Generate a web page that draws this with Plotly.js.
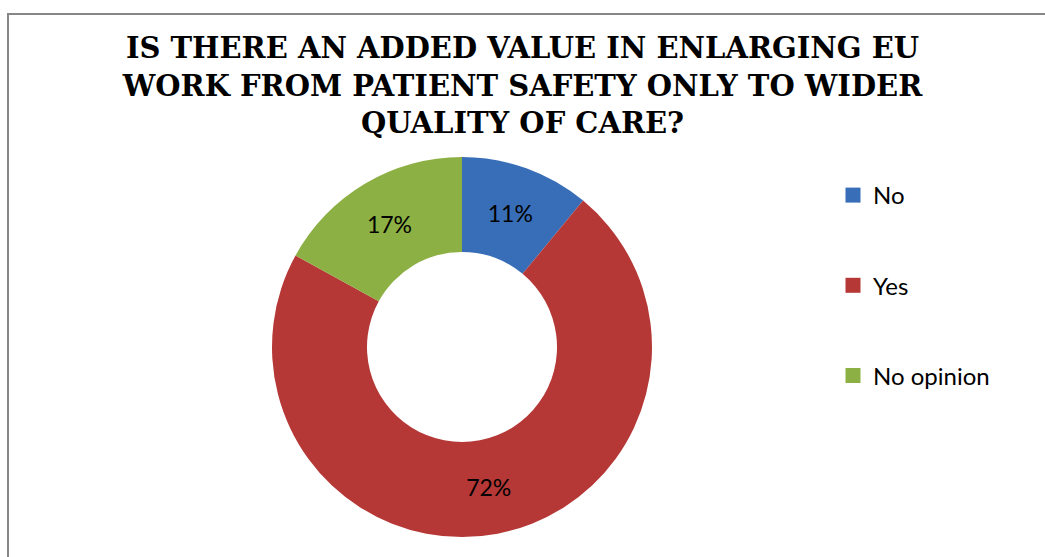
<!DOCTYPE html>
<html>
<head>
<meta charset="utf-8">
<script src="https://cdn.plot.ly/plotly-3.0.1.min.js"></script>
<style>
  html, body { margin: 0; padding: 0; background: #fff; }
  #chart { width: 1045px; height: 557px; }
</style>
</head>
<body>
<div id="chart"></div>
<script>
const categories = ['No', 'Yes', 'No opinion'];
const shares = [11, 72, 17];
const sliceColors = ['#386EB8', '#B53836', '#8CB043'];
const titleLines = [
  'IS THERE AN ADDED VALUE IN ENLARGING EU',
  'WORK FROM PATIENT SAFETY ONLY TO WIDER',
  'QUALITY OF CARE?'
];

const W = 1045, H = 557;
const cx = 462, cy = 347, R = 190;

const pie = {
  type: 'pie',
  labels: categories,
  values: shares,
  sort: false,
  direction: 'clockwise',
  rotation: 0,
  hole: 0.5,
  marker: { colors: sliceColors, line: { width: 0 } },
  texttemplate: '%{value}%',
  textinfo: 'text',
  textposition: 'inside',
  insidetextorientation: 'horizontal',
  textfont: { family: 'Lato, sans-serif', size: 23, color: '#000' },
  showlegend: false,
  hoverinfo: 'label+percent',
  domain: {
    x: [(cx - R) / W, (cx + R) / W],
    y: [(H - cy - R) / H, (H - cy + R) / H]
  }
};

const legendTraces = categories.map((c, i) => ({
  type: 'scatter',
  mode: 'markers',
  x: [null], y: [null],
  name: c,
  legendgroup: 'g' + i,
  marker: { symbol: 'square', size: 15, color: sliceColors[i] },
  showlegend: true,
  hoverinfo: 'skip'
}));

const layout = {
  width: W, height: H,
  margin: { l: 0, r: 0, t: 0, b: 0 },
  paper_bgcolor: '#fff',
  plot_bgcolor: 'rgba(0,0,0,0)',
  title: {
    text: titleLines.join('<br>'),
    x: 0.5, xanchor: 'center', xref: 'container',
    y: 1 - 58 / H, yanchor: 'top', yref: 'container',
    font: { family: '"DejaVu Serif", serif', size: 29, weight: 'bold', stretch: 'condensed', color: '#000' }
  },
  xaxis: { visible: false },
  yaxis: { visible: false },
  legend: {
    x: 833 / W, xanchor: 'left',
    y: 1 - 173 / H, yanchor: 'top',
    font: { family: 'Lato, sans-serif', size: 24, color: '#000' },
    tracegroupgap: 56,
    bgcolor: 'rgba(0,0,0,0)'
  },
  shapes: [
    { type: 'line', xref: 'paper', yref: 'paper', x0: 7 / W, x1: 1.01, y0: 1 - 14 / H, y1: 1 - 14 / H, line: { color: '#878787', width: 2 } },
    { type: 'line', xref: 'paper', yref: 'paper', x0: 8 / W, x1: 8 / W, y0: 1 - 13 / H, y1: -0.01, line: { color: '#878787', width: 2 } }
  ]
};

Plotly.newPlot('chart', [pie, ...legendTraces], layout, { displayModeBar: false, staticPlot: true });
</script>
</body>
</html>
